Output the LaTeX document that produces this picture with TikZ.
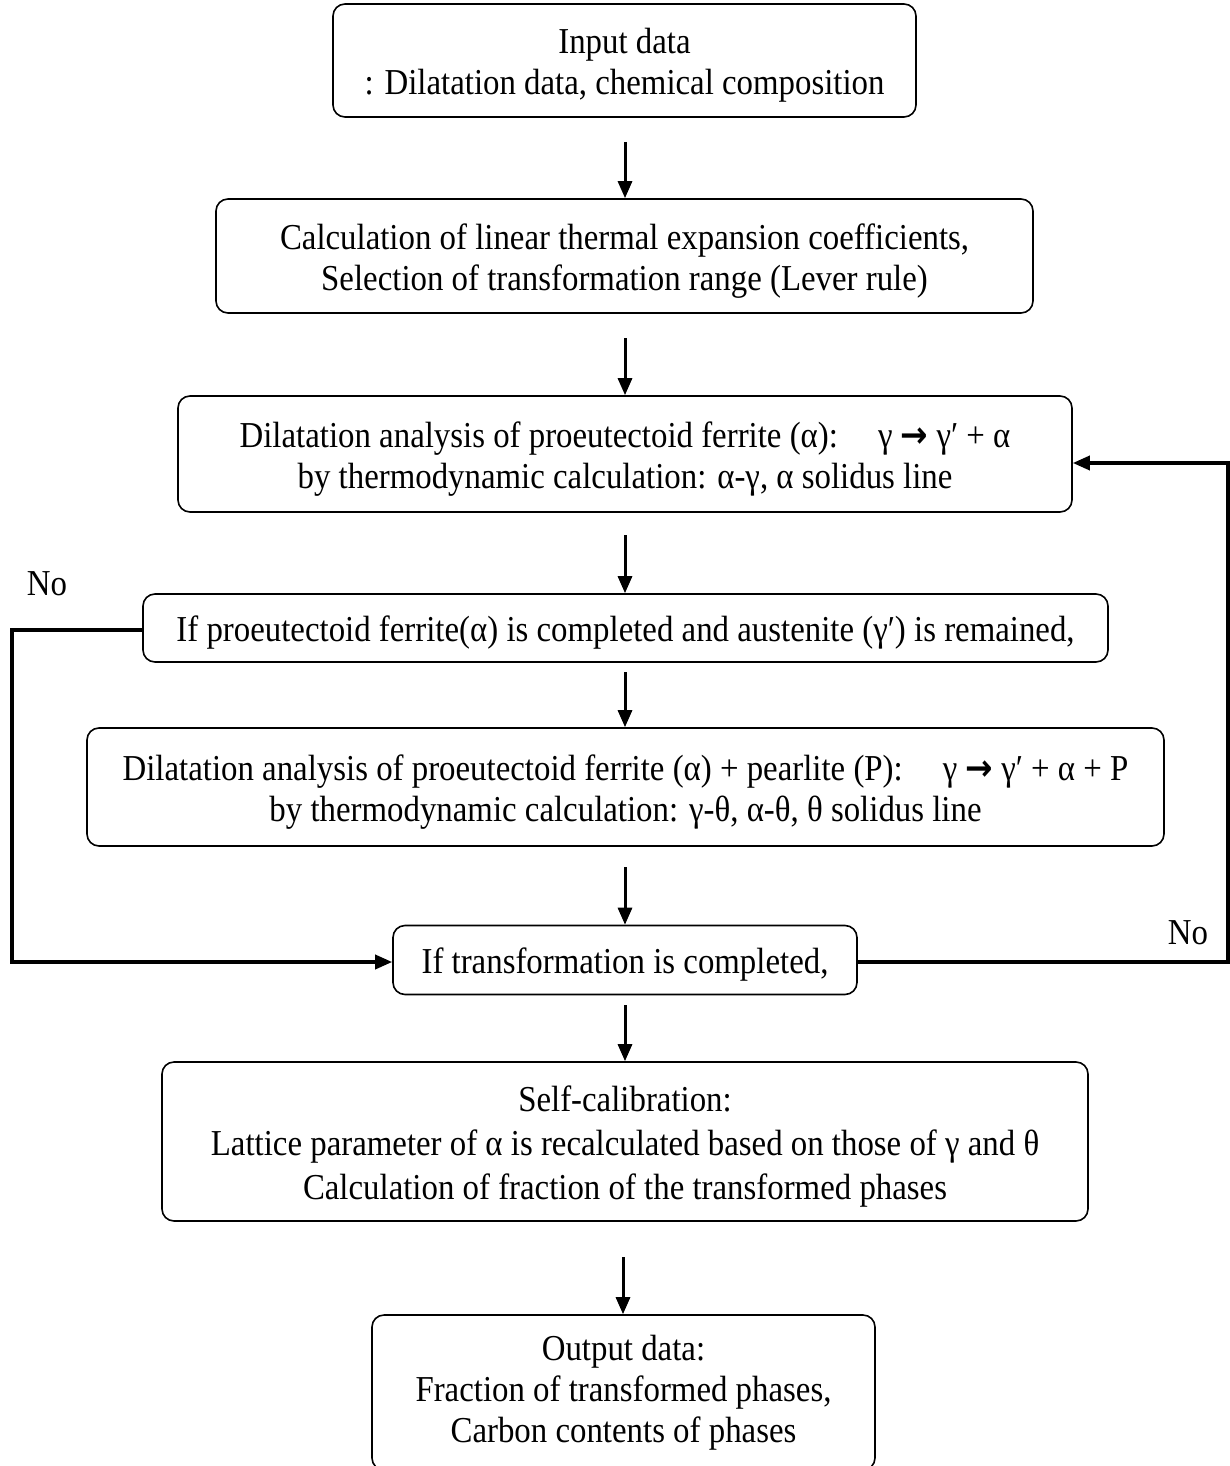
\documentclass[tikz,border=0pt]{standalone}
\usepackage{fontspec}
\setmainfont{Liberation Serif}[FakeStretch=0.9]
\newfontfamily\arrfont{DejaVu Sans}[FakeStretch=0.9]
\usetikzlibrary{arrows.meta}
\newcommand{\thickarr}{{\arrfont\bfseries →}}
\newcommand{\lowstrut}{\rule{0pt}{35pt}}
\begin{document}
\begin{tikzpicture}[x=1pt,y=-1pt,
  box/.style={draw, line width=1.6pt, rounded corners=12pt, align=center, inner sep=0pt,
    font=\fontsize{36.5}{41}\selectfont},
  lbl/.style={font=\fontsize{36.5}{41}\selectfont, inner sep=0pt},
  flow/.style={line width=3pt, -{Triangle[length=17pt,width=14pt]}},
  loopline/.style={line width=3.5pt, -{Triangle[length=17pt,width=14pt]}}]
\useasboundingbox (0,0) rectangle (1230,1466);

\node[box, minimum width=583pt, minimum height=113pt] (b1) at (624.5,60.5)
  {\lowstrut Input data\\: Dilatation data, chemical composition};
\node[box, minimum width=817pt, minimum height=114pt] (b2) at (624.5,256)
  {\lowstrut Calculation of linear thermal expansion coefficients,\\Selection of transformation range (Lever rule)};
\node[box, minimum width=894pt, minimum height=116pt] (b3) at (625,454)
  {\lowstrut Dilatation analysis of proeutectoid ferrite (α):\hspace{1.1em}γ \thickarr\ γ′ + α\\by thermodynamic calculation: α-γ, α solidus line};
\node[box, minimum width=965pt, minimum height=68pt] (b4) at (625.5,628)
  {\lowstrut If proeutectoid ferrite(α) is completed and austenite (γ′) is remained,};
\node[box, minimum width=1077pt, minimum height=118pt] (b5) at (625.5,787)
  {\lowstrut Dilatation analysis of proeutectoid ferrite (α) + pearlite (P):\hspace{1.1em}γ \thickarr\ γ′ + α + P\\by thermodynamic calculation: γ-θ, α-θ, θ solidus line};
\node[box, minimum width=464pt, minimum height=69pt] (b6) at (625,960)
  {\lowstrut If transformation is completed,};
\node[box, minimum width=926pt, minimum height=159pt] (b7) at (625,1141.5)
  {\lowstrut Self-calibration:\\[3pt]Lattice parameter of α is recalculated based on those of γ and θ\\[3pt]Calculation of fraction of the transformed phases};
\node[box, minimum width=503pt, minimum height=155pt] (b8) at (623.5,1392.5)
  {Output data:\\Fraction of transformed phases,\\Carbon contents of phases};

\coordinate (s1) at (625,142);
\coordinate (s2) at (625,338);
\coordinate (s3) at (625,535);
\coordinate (s4) at (625,672);
\coordinate (s5) at (625,867);
\coordinate (s6) at (625,1005);
\coordinate (s7) at (623,1257);
\draw[flow] (s1) -- (s1 |- b2.north);
\draw[flow] (s2) -- (s2 |- b3.north);
\draw[flow] (s3) -- (s3 |- b4.north);
\draw[flow] (s4) -- (s4 |- b5.north);
\draw[flow] (s5) -- (s5 |- b6.north);
\draw[flow] (s6) -- (s6 |- b7.north);
\draw[flow] (s7) -- (s7 |- b8.north);

\coordinate (lc) at (12,630);
\coordinate (ld) at (12,962);
\draw[loopline] ([yshift=-2pt]b4.west) -- (lc) -- (ld) -- ([yshift=-2pt]b6.west);
\coordinate (rc) at (1228,463);
\draw[loopline] ([yshift=-2pt]b6.east) -| (rc) -- (rc -| b3.east);

\node[lbl] (no1) at (47,584) {No};
\node[lbl] (no2) at (1188,933) {No};
\end{tikzpicture}
\end{document}
